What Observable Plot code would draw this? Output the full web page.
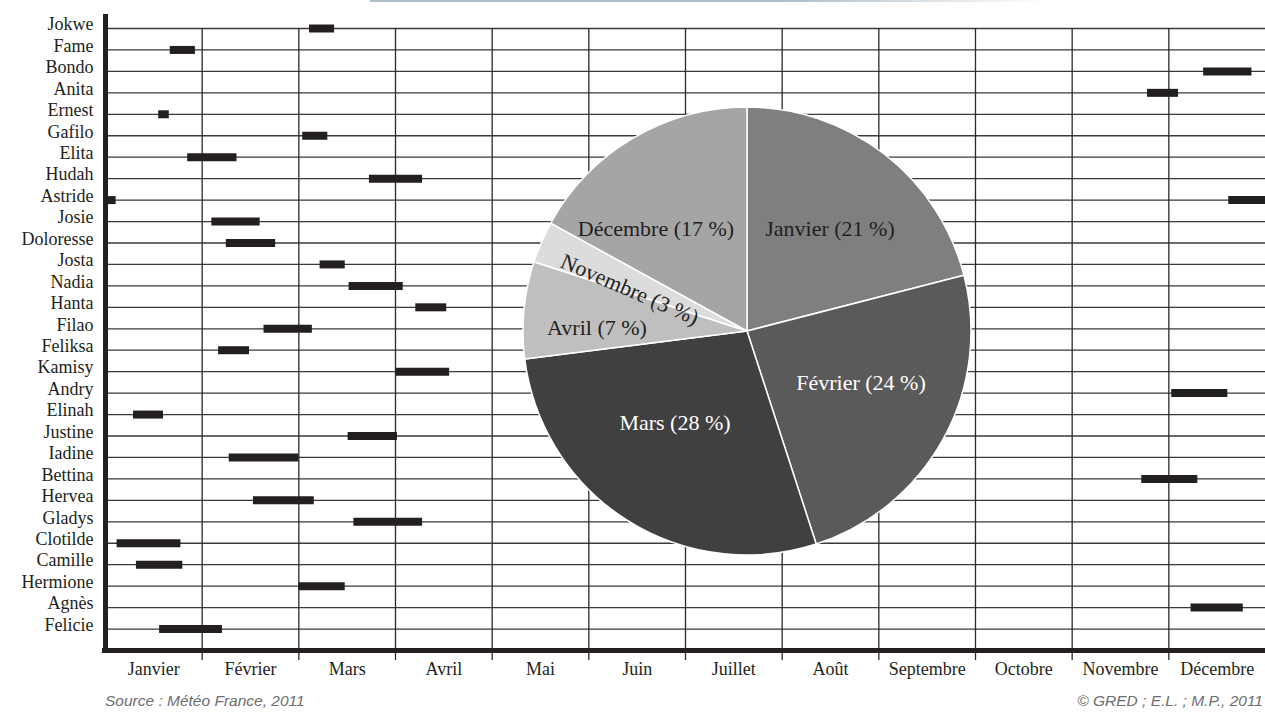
<!DOCTYPE html>
<html>
<head>
<meta charset="utf-8">
<script src="https://cdn.jsdelivr.net/npm/d3@7"></script>
<script src="https://cdn.jsdelivr.net/npm/@observablehq/plot@0.6"></script>
<style>
html, body { margin: 0; padding: 0; background: #fff; overflow: hidden; }
#wrap { position: relative; width: 1265px; height: 712px; overflow: hidden; }
#topband { position: absolute; left: 370px; top: 0; width: 680px; height: 2px;
  background: linear-gradient(to right, #aebcc6 0%, #aebcc6 60%, #ffffff 100%); }
.cap { position: absolute; top: 693px; font: italic 15.5px "Liberation Sans", Arial, sans-serif;
  color: #6d6e71; line-height: 15px; white-space: nowrap; }
</style>
</head>
<body>
<div id="wrap">
  <div id="chart"></div>
  <div id="topband"></div>
  <span class="cap" style="left:105px">Source : Météo France, 2011</span>
  <span class="cap" style="right:2px">© GRED ; E.L. ; M.P., 2011</span>
</div>
<script>
// ---- Data ----
const names = ["Jokwe","Fame","Bondo","Anita","Ernest","Gafilo","Elita","Hudah","Astride","Josie",
  "Doloresse","Josta","Nadia","Hanta","Filao","Feliksa","Kamisy","Andry","Elinah","Justine",
  "Iadine","Bettina","Hervea","Gladys","Clotilde","Camille","Hermione","Agnès","Felicie"];

const months = ["Janvier","Février","Mars","Avril","Mai","Juin","Juillet","Août",
  "Septembre","Octobre","Novembre","Décembre"];

// cyclone activity periods, in months from 1 January (0 = 1 Jan, 12 = 31 Dec)
const barName  = ["Jokwe","Fame","Bondo","Anita","Ernest","Gafilo","Elita","Hudah","Astride","Astride",
  "Josie","Doloresse","Josta","Nadia","Hanta","Filao","Feliksa","Kamisy","Andry","Elinah",
  "Justine","Iadine","Bettina","Hervea","Gladys","Clotilde","Camille","Hermione","Agnès","Felicie"];
const barStart = [2.11, 0.67, 11.36, 10.78, 0.55, 2.04, 0.85, 2.73, 0.00, 11.62,
  1.10, 1.25, 2.22, 2.52, 3.21, 1.64, 1.17, 3.01, 11.03, 0.29,
  2.51, 1.28, 10.72, 1.53, 2.57, 0.12, 0.32, 2.00, 11.23, 0.56];
const barEnd   = [2.37, 0.93, 11.86, 11.10, 0.66, 2.30, 1.36, 3.28, 0.11, 12.00,
  1.60, 1.76, 2.48, 3.08, 3.53, 2.14, 1.49, 3.56, 11.61, 0.60,
  3.02, 2.00, 11.30, 2.16, 3.28, 0.78, 0.80, 2.48, 11.77, 1.21];

// pie: share of cyclones per month
const pieMonths = ["Janvier","Février","Mars","Avril","Novembre","Décembre"];
const pieShares = [21, 24, 28, 7, 3, 17];

// ---- Styling / layout ----
const pieColors = ["#7f7f7f","#5a5a5a","#404040","#bfbfbf","#dcdcdc","#a5a5a5"];
const pieTextColors = ["#231f20","#ffffff","#ffffff","#231f20","#231f20","#231f20"];
const pieLabelOffsets = [[83,-103],[114,51],[-72,91],[-150,-4],[-117,-42],[-91,-103]];
const PIE = {cx: 747, cy: 331, r: 224};
const INK = "#231f20";

const bars = barName.map((n, i) => ({name: n, start: barStart[i], end: barEnd[i]}));
const pieData = pieMonths.map((m, i) => ({month: m, share: pieShares[i], i}));

function pieMark() {
  const g = d3.create("svg:g").attr("transform", `translate(${PIE.cx},${PIE.cy})`);
  const arcs = d3.pie().sort(null).value(d => d.share)(pieData);
  const arc = d3.arc().innerRadius(0).outerRadius(PIE.r);
  g.selectAll("path").data(arcs).join("path")
    .attr("d", arc)
    .attr("fill", d => pieColors[d.data.i])
    .attr("stroke", "#ffffff")
    .attr("stroke-width", 1.5)
    .attr("stroke-linejoin", "round");
  g.selectAll("text").data(arcs).join("text")
    .attr("transform", d => {
      const [dx, dy] = pieLabelOffsets[d.data.i];
      const mid = (d.startAngle + d.endAngle) / 2 * 180 / Math.PI;
      const rot = d.data.month === "Novembre" ? mid - 270 : 0;
      return `translate(${dx},${dy}) rotate(${rot})`;
    })
    .attr("text-anchor", "middle")
    .attr("dy", "0.35em")
    .attr("font-family", "'Liberation Serif', 'Times New Roman', serif")
    .attr("font-size", 22)
    .attr("fill", d => pieTextColors[d.data.i])
    .text(d => `${d.data.month} (${d.data.share} %)`);
  return g.node();
}

const chart = Plot.plot({
  width: 1265,
  height: 690,
  marginLeft: 105,
  marginRight: 0,
  marginTop: 28,
  marginBottom: 40,
  style: {fontFamily: "'Liberation Serif', 'Times New Roman', serif", fontSize: "18px",
          background: "transparent", overflow: "visible"},
  x: {domain: [0, 12], range: [105, 1265], axis: null},
  y: {domain: [0, names.length], range: [28, 650], axis: null},
  marks: [
    Plot.ruleY(d3.range(names.length), {y: d => d, stroke: "#3a3a3a", strokeWidth: 1.3}),
    Plot.ruleX(d3.range(1, 12), {x: d => d, stroke: "#2a2a2a", strokeWidth: 1.3, insetBottom: -10}),
    Plot.ruleY(bars, {y: d => names.indexOf(d.name), x1: "start", x2: "end", stroke: INK, strokeWidth: 8}),
    pieMark,
    Plot.ruleX([0], {x: d => d, stroke: INK, strokeWidth: 5, insetTop: -14}),
    Plot.ruleY([names.length], {y: d => d, stroke: INK, strokeWidth: 5, insetLeft: -3}),
    Plot.text(names, {x: 0, y: (d, i) => i, text: d => d, textAnchor: "end", dx: -12, dy: -4, fill: INK}),
    Plot.text(months, {x: (d, i) => i + 0.5, y: names.length, text: d => d, dy: 19, fill: INK})
  ]
});
document.getElementById("chart").appendChild(chart);
</script>
</body>
</html>
